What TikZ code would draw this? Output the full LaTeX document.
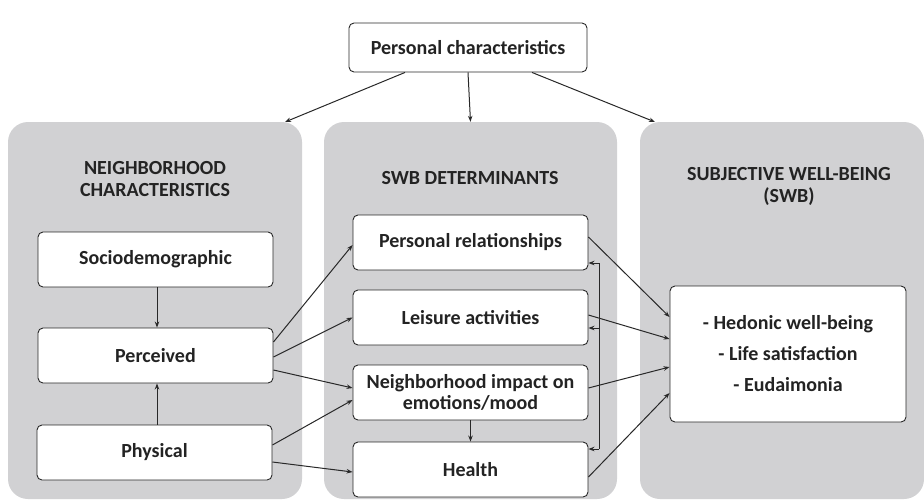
\documentclass[tikz,border=0pt]{standalone}
\usepackage{fontspec}
\setmainfont{Carlito}
\usetikzlibrary{arrows.meta}
\definecolor{panelgray}{RGB}{209,209,211}
\definecolor{linegray}{RGB}{40,40,40}
\definecolor{txtgray}{RGB}{35,35,35}
\tikzset{
  panel/.style={fill=panelgray, draw=none, rounded corners=20pt, minimum width=#1, minimum height=377pt, inner sep=0pt},
  box/.style={draw=linegray, fill=white, line width=0.9pt, rounded corners=5pt, minimum width=235pt, minimum height=55pt, inner sep=0pt, align=center, font=\fontsize{20}{21}\selectfont\bfseries, text=txtgray},
  ttl/.style={align=center, font=\fontsize{20}{22}\selectfont\bfseries, text=txtgray},
  arr/.style={draw=linegray, line width=1pt, -{Stealth[length=6pt,width=4.5pt]}},
  ln/.style={draw=linegray, line width=1pt}
}
\begin{document}
\begin{tikzpicture}[x=1pt,y=-1pt]
\useasboundingbox (0,0) rectangle (924,501);
% panels
\node[panel=294pt] (lp) at (155,310.5) {};
\node[panel=293pt] (mp) at (470.5,310.5) {};
\node[panel=284pt] (rp) at (782,310.5) {};
% titles
\node[ttl] (lt) at (155,179) {NEIGHBORHOOD\\CHARACTERISTICS};
\node[ttl] (mt) at (470,178) {SWB DETERMINANTS};
\node[ttl] (rt) at (789,186.5) {SUBJECTIVE WELL-BEING\\(SWB)};
% top
\node[box, minimum width=238pt, minimum height=49pt] (top) at (468,47.5) {Personal characteristics};
% left boxes
\node[box] (soc) at (155.5,259.5) {Sociodemographic};
\node[box] (per) at (155.5,355.5) {Perceived};
\node[box] (phy) at (154.5,452.5) {Physical};
% middle boxes
\node[box] (pr) at (470.5,242.5) {Personal relationships};
\node[box] (lei) at (470.5,317.5) {Leisure activities};
\node[box] (ni) at (470.5,392.5) {Neighborhood impact on\\emotions/mood};
\node[box] (hea) at (470.5,469.5) {Health};
% right box
\node[box, minimum width=236pt, minimum height=136pt, font=\fontsize{20}{31}\selectfont\bfseries] (swb) at (788,354) {- Hedonic well-being\\- Life satisfaction\\- Eudaimonia};
% top arrows
\coordinate (tl) at (285,122);
\coordinate (tr) at (655,122);
\draw[arr] ([xshift=-63pt]top.south) -- (tl);
\draw[arr] (top.south) -- (mp.north);
\draw[arr] ([xshift=64pt]top.south) -- (tr);
% left column
\draw[arr] ([xshift=1.5pt]soc.south) -- ([xshift=1.5pt]per.north);
\draw[arr] ([xshift=2.5pt]phy.north) -- ([xshift=1.5pt]per.south);
% left to middle
\draw[arr] ([yshift=13.5pt]per.east) -- ([yshift=-2.5pt]pr.west);
\draw[arr] ([yshift=-1.5pt]per.east) -- (lei.west);
\draw[arr] ([yshift=-14.5pt]per.east) -- ([yshift=4.5pt]ni.west);
\draw[arr] ([yshift=7.5pt]phy.east) -- ([yshift=-7.5pt]ni.west);
\draw[arr] ([yshift=-9.5pt]phy.east) -- ([yshift=-2.5pt]hea.west);
% middle column
\draw[arr] (ni.south) -- (hea.north);
\coordinate (b1) at (599,263);
\coordinate (b2) at (599,328);
\coordinate (b3) at (599,449);
\draw[ln] (b1) -- (b3);
\draw[arr] (b1) -- ([yshift=-20.5pt]pr.east);
\draw[arr] (b2) -- ([yshift=-10.5pt]lei.east);
\draw[arr] (b3) -- ([yshift=20.5pt]hea.east);
% middle to right
\draw[arr] ([yshift=5.5pt]pr.east) -- ([yshift=37pt]swb.west);
\draw[arr] ([yshift=2.5pt]lei.east) -- ([yshift=15pt]swb.west);
\draw[arr] ([yshift=4.5pt]ni.east) -- ([yshift=-13pt]swb.west);
\draw[arr] ([yshift=-7.5pt]hea.east) -- ([yshift=-39pt]swb.west);
\end{tikzpicture}
\end{document}
